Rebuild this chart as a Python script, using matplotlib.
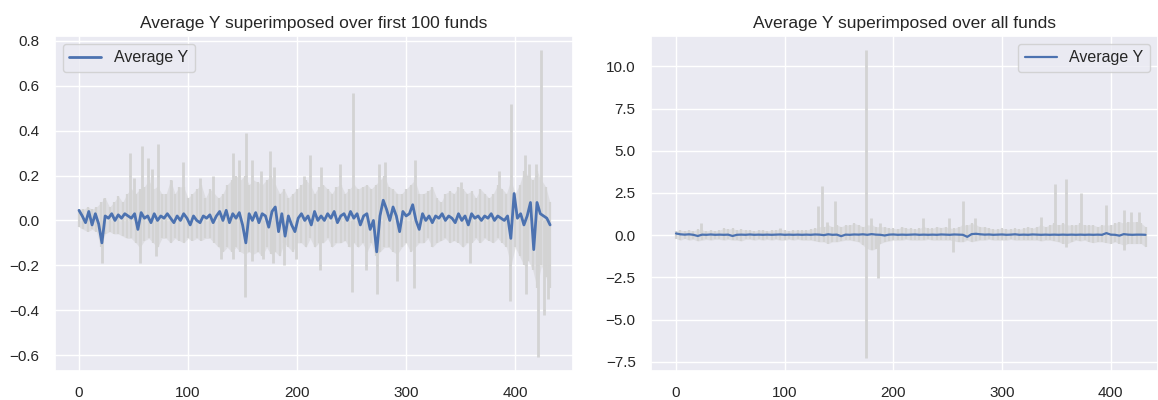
import numpy as np
import matplotlib
matplotlib.use("Agg")
import matplotlib.pyplot as plt
import seaborn as sns

# ---- data ----
# grey band (spread of the individual funds), sampled every 4 steps
band_x = np.arange(0, 433, 4)

left_upper = [
    0.05, 0.05, 0.06, 0.05, 0.06, 0.08, 0.10, 0.06, 0.08, 0.11,
    0.08, 0.12, 0.14, 0.12, 0.14, 0.15, 0.18, 0.14, 0.15, 0.12,
    0.12, 0.18, 0.12, 0.15, 0.15, 0.10, 0.12, 0.14, 0.16, 0.10,
    0.14, 0.12, 0.10, 0.12, 0.16, 0.18, 0.20, 0.18, 0.20, 0.16,
    0.18, 0.17, 0.16, 0.18, 0.20, 0.16, 0.12, 0.14, 0.10, 0.12,
    0.14, 0.16, 0.18, 0.16, 0.12, 0.15, 0.16, 0.14, 0.12, 0.15,
    0.16, 0.12, 0.14, 0.16, 0.14, 0.15, 0.16, 0.14, 0.16, 0.18,
    0.20, 0.15, 0.14, 0.12, 0.12, 0.14, 0.16, 0.18, 0.12, 0.12,
    0.13, 0.15, 0.10, 0.08, 0.12, 0.13, 0.12, 0.15, 0.14, 0.12,
    0.13, 0.10, 0.14, 0.12, 0.10, 0.12, 0.16, 0.14, 0.12, 0.18,
    0.12, 0.16, 0.22, 0.20, 0.18, 0.22, 0.18, 0.15, 0.08,
]
left_lower = [
    -0.03, -0.04, -0.05, -0.04, -0.05, -0.12, -0.06, -0.05, -0.06, -0.06,
    -0.07, -0.08, -0.08, -0.10, -0.12, -0.09, -0.08, -0.10, -0.12, -0.08,
    -0.08, -0.10, -0.08, -0.09, -0.10, -0.08, -0.09, -0.08, -0.09, -0.08,
    -0.08, -0.10, -0.12, -0.14, -0.12, -0.14, -0.12, -0.14, -0.15, -0.14,
    -0.15, -0.14, -0.16, -0.12, -0.15, -0.14, -0.16, -0.10, -0.12, -0.14,
    -0.10, -0.10, -0.12, -0.08, -0.12, -0.10, -0.10, -0.08, -0.12, -0.10,
    -0.10, -0.09, -0.12, -0.10, -0.12, -0.10, -0.14, -0.10, -0.16, -0.14,
    -0.12, -0.12, -0.14, -0.15, -0.12, -0.10, -0.14, -0.12, -0.10, -0.10,
    -0.08, -0.12, -0.10, -0.09, -0.08, -0.10, -0.09, -0.10, -0.12, -0.10,
    -0.10, -0.08, -0.10, -0.08, -0.09, -0.10, -0.08, -0.10, -0.12, -0.20,
    -0.12, -0.16, -0.20, -0.18, -0.22, -0.30, -0.20, -0.25, -0.30,
]

# single-fund spikes sticking out of the band
left_spike_up_x = [23, 47, 50, 58, 63, 67, 72, 84, 95, 111, 123, 141, 147, 153,
                   159, 167, 175, 179, 206, 212, 222, 239, 251, 275, 281, 308,
                   350, 385, 396, 409, 413, 419, 424]
left_spike_up_y = [0.10, 0.30, 0.19, 0.33, 0.28, 0.23, 0.34, 0.18, 0.26, 0.19,
                   0.20, 0.30, 0.27, 0.39, 0.27, 0.22, 0.31, 0.24, 0.20, 0.29,
                   0.24, 0.25, 0.57, 0.25, 0.26, 0.27, 0.17, 0.22, 0.52, 0.29,
                   0.25, 0.25, 0.76]
left_spike_dn_x = [21, 56, 71, 130, 141, 152, 159, 169, 178, 188, 199, 221, 250,
                   263, 273, 292, 307, 359, 395, 410, 421, 426, 430]
left_spike_dn_y = [-0.19, -0.19, -0.16, -0.17, -0.17, -0.34, -0.18, -0.17, -0.19,
                   -0.20, -0.17, -0.22, -0.32, -0.22, -0.33, -0.27, -0.30, -0.19,
                   -0.36, -0.33, -0.61, -0.42, -0.35]

# average Y over the first 100 funds, every 3 steps
left_avg_x = np.arange(0, 433, 3)
left_avg = [
    0.045, 0.02, -0.01, 0.04, -0.02, 0.03, -0.015, -0.10, 0.02, 0.01,
    0.03, 0.0, 0.025, 0.01, 0.03, 0.02, 0.01, 0.03, -0.04, 0.035,
    0.01, 0.02, -0.01, 0.03, 0.0, 0.02, 0.01, 0.03, 0.01, -0.01,
    0.02, 0.0, 0.03, 0.01, -0.02, 0.02, 0.0, -0.01, 0.02, 0.01,
    0.025, -0.01, 0.02, 0.04, 0.0, 0.045, -0.01, 0.03, 0.01, 0.035,
    -0.02, -0.10, 0.03, 0.0, 0.035, -0.01, 0.03, 0.02, -0.03, 0.04,
    0.06, -0.05, 0.03, -0.07, 0.02, -0.02, -0.05, 0.01, 0.03, 0.0,
    0.02, -0.02, 0.04, 0.0, 0.02, 0.0, 0.03, 0.01, 0.04, -0.01,
    0.02, 0.03, 0.0, 0.04, 0.01, 0.03, -0.02, 0.02, 0.03, -0.04,
    0.0, -0.14, 0.02, 0.09, 0.05, 0.0, 0.06, 0.02, -0.05, 0.04,
    0.02, 0.03, 0.07, 0.0, -0.04, 0.03, 0.0, 0.02, -0.01, 0.02,
    0.01, 0.03, 0.0, 0.02, 0.01, -0.01, 0.03, 0.0, 0.02, -0.02,
    0.03, 0.01, 0.02, 0.0, 0.02, 0.01, 0.03, 0.0, 0.02, 0.01,
    0.0, 0.02, -0.08, 0.12, 0.01, 0.03, -0.02, 0.02, 0.08, -0.13,
    0.08, 0.03, 0.02, 0.01, -0.02,
]

right_upper = [
    0.25, 0.3, 0.25, 0.3, 0.25, 0.35, 0.3, 0.25, 0.3, 0.25,
    0.3, 0.4, 0.35, 0.4, 0.3, 0.35, 0.3, 0.3, 0.25, 0.3,
    0.3, 0.25, 0.3, 0.3, 0.35, 0.3, 0.25, 0.3, 0.3, 0.3,
    0.3, 0.35, 0.4, 0.5, 0.5, 0.6, 0.5, 0.6, 0.5, 0.6,
    0.6, 0.7, 0.6, 0.5, 0.6, 0.6, 0.5, 0.5, 0.5, 0.4,
    0.4, 0.35, 0.5, 0.4, 0.4, 0.35, 0.4, 0.5, 0.4, 0.4,
    0.5, 0.45, 0.5, 0.4, 0.4, 0.5, 0.6, 0.6, 0.7, 0.6,
    0.5, 0.5, 0.4, 0.35, 0.35, 0.4, 0.35, 0.35, 0.4, 0.35,
    0.4, 0.5, 0.4, 0.5, 0.6, 0.5, 0.6, 0.7, 0.6, 0.7,
    0.6, 0.6, 0.6, 0.7, 0.6, 0.6, 0.6, 0.5, 0.6, 0.6,
    0.6, 0.7, 0.8, 0.7, 0.8, 0.8, 0.8, 0.7, 0.5,
]
right_lower = [
    -0.2, -0.3, -0.2, -0.3, -0.25, -0.35, -0.3, -0.25, -0.3, -0.25,
    -0.25, -0.3, -0.25, -0.3, -0.3, -0.35, -0.25, -0.25, -0.3, -0.25,
    -0.3, -0.25, -0.3, -0.25, -0.3, -0.3, -0.25, -0.3, -0.25, -0.3,
    -0.3, -0.3, -0.35, -0.4, -0.4, -0.5, -0.4, -0.4, -0.35, -0.3,
    -0.3, -0.35, -0.4, -0.6, -0.8, -0.9, -0.8, -0.5, -0.4, -0.35,
    -0.3, -0.3, -0.3, -0.25, -0.3, -0.3, -0.3, -0.3, -0.25, -0.3,
    -0.3, -0.3, -0.3, -0.3, -0.35, -0.4, -0.4, -0.3, -0.4, -0.35,
    -0.3, -0.3, -0.25, -0.3, -0.3, -0.3, -0.3, -0.25, -0.3, -0.3,
    -0.3, -0.3, -0.3, -0.3, -0.35, -0.3, -0.3, -0.35, -0.4, -0.5,
    -0.5, -0.4, -0.3, -0.35, -0.3, -0.4, -0.45, -0.4, -0.4, -0.45,
    -0.5, -0.4, -0.5, -0.6, -0.5, -0.5, -0.5, -0.5, -0.7,
]
right_spike_up_x = [23, 96, 131, 134, 139, 146, 175, 179, 188, 227, 251, 264,
                    275, 336, 349, 359, 373, 396, 412, 419, 426]
right_spike_up_y = [0.7, 0.45, 1.7, 2.9, 0.8, 2.0, 11.0, 1.0, 0.7, 1.0, 1.0, 2.0,
                    1.0, 1.1, 3.05, 3.3, 2.5, 1.8, 1.5, 1.4, 1.4]
right_spike_dn_x = [175, 186, 255, 359, 412]
right_spike_dn_y = [-7.3, -2.55, -1.0, -0.7, -0.9]

# average Y over all funds, every 4 steps
right_avg = [
    0.1, 0.05, 0.03, 0.05, 0.02, -0.05, 0.03, 0.02, 0.04, 0.02,
    0.03, 0.02, 0.03, -0.05, 0.02, 0.03, 0.02, 0.04, 0.02, 0.03,
    0.02, 0.03, 0.02, 0.03, 0.04, 0.02, 0.03, 0.02, 0.03, 0.02,
    0.03, 0.02, 0.04, 0.03, 0.0, 0.05, 0.02, 0.03, -0.06, 0.03,
    0.02, 0.04, 0.03, 0.05, 0.02, 0.06, 0.03, 0.02, -0.02, 0.03,
    0.04, 0.02, 0.03, 0.02, 0.03, 0.04, 0.02, 0.03, 0.02, 0.03,
    0.02, 0.04, 0.03, 0.02, 0.04, 0.03, 0.02, -0.1, 0.06, 0.08,
    0.05, 0.03, 0.04, 0.02, 0.03, 0.04, 0.02, 0.03, 0.05, 0.02,
    0.03, 0.02, 0.04, 0.03, 0.02, 0.03, 0.02, 0.03, 0.02, 0.03,
    0.02, 0.03, 0.02, 0.03, 0.02, 0.03, 0.02, 0.03, 0.02, 0.12,
    0.03, 0.02, -0.03, 0.06, 0.03, 0.02, 0.03, 0.03, 0.02,
]

GREY = "#d3d3d3"
BLUE = "#4c72b0"

sns.set_theme(style="darkgrid")
plt.rcParams["font.family"] = ["Liberation Sans", "DejaVu Sans"]

W, H = 1158, 400
fig = plt.figure(figsize=(W / 100, H / 100), dpi=100)
ax1 = fig.add_axes([55 / W, 29 / H, 518 / W, 335 / H])
ax2 = fig.add_axes([651 / W, 29 / H, 507 / W, 335 / H])


def draw_panel(ax, upper, lower, up_x, up_y, dn_x, dn_y, avg_x, avg, lw):
    # soft fill for the bulk of the funds, solid strokes for the extremes
    ax.fill_between(band_x, lower, upper, color=GREY, alpha=0.55, linewidth=0)
    ax.vlines(band_x, lower, upper, color=GREY, linewidth=1.6)
    ax.vlines(up_x, 0, up_y, color=GREY, linewidth=2)
    ax.vlines(dn_x, 0, dn_y, color=GREY, linewidth=2)
    ax.plot(avg_x, avg, color=BLUE, linewidth=lw, label="Average Y")
    ax.tick_params(length=0, pad=11, labelsize=11, colors=".15")


draw_panel(ax1, left_upper, left_lower, left_spike_up_x, left_spike_up_y,
           left_spike_dn_x, left_spike_dn_y, left_avg_x, left_avg, 2.0)
ax1.set_xlim(-22, 453)
ax1.set_ylim(-0.671, 0.822)
ax1.set_title("Average Y superimposed over first 100 funds", fontsize=12.5,
              color=".15")
ax1.legend(loc="upper left", fontsize=11.5)

draw_panel(ax2, right_upper, right_lower, right_spike_up_x, right_spike_up_y,
           right_spike_dn_x, right_spike_dn_y, band_x, right_avg, 1.6)
ax2.set_xlim(-23, 443.5)
ax2.set_ylim(-8.05, 11.8)
ax2.set_yticks([-7.5, -5.0, -2.5, 0.0, 2.5, 5.0, 7.5, 10.0])
ax2.set_title("Average Y superimposed over all funds", fontsize=12.5,
              color=".15")
ax2.legend(loc="upper right", fontsize=11.5)

fig.savefig("out.png", dpi=100)
